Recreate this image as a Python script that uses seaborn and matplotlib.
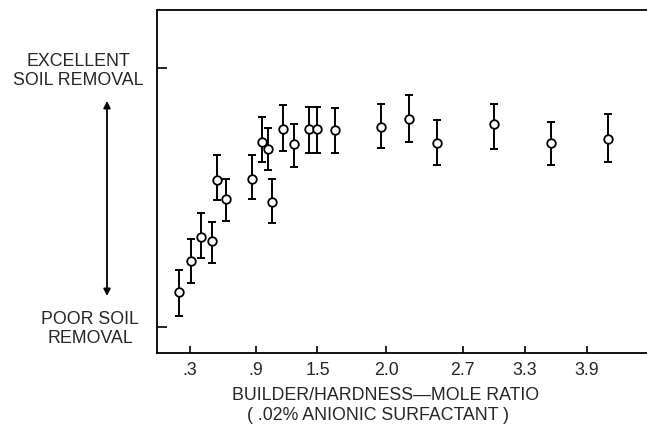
import numpy as np
import matplotlib
matplotlib.use("Agg")
import matplotlib.pyplot as plt
import seaborn as sns
import pandas as pd

# ---- data ----
ratio = [0.20, 0.31, 0.40, 0.50, 0.55, 0.63, 0.87, 0.96, 1.02, 1.06, 1.16,
         1.27, 1.42, 1.50, 1.63, 1.96, 2.21, 2.46, 3.00, 3.55, 4.10]
removal = [1.34, 2.55, 3.49, 3.33, 5.68, 4.93, 5.71, 7.15, 6.87, 4.84, 7.64,
           7.05, 7.63, 7.63, 7.61, 7.71, 8.02, 7.09, 7.83, 7.09, 7.27]
err_low = [0.42, 1.69, 2.65, 2.46, 4.90, 4.09, 4.93, 6.38, 6.06, 4.00, 6.81,
           6.19, 6.73, 6.73, 6.73, 6.90, 7.13, 6.24, 6.88, 6.25, 6.38]
err_high = [2.20, 3.39, 4.39, 4.07, 6.64, 5.70, 6.64, 8.10, 7.67, 5.70, 8.57,
            7.84, 8.48, 8.48, 8.46, 8.60, 8.95, 7.99, 8.61, 7.92, 8.24]
xtick_values = [0.3, 0.9, 1.5, 2.0, 2.7, 3.3, 3.9]
xtick_labels = [".3", ".9", "1.5", "2.0", "2.7", "3.3", "3.9"]
ytick_values = [0, 10]
ylabel_top = "EXCELLENT\nSOIL REMOVAL"
ylabel_bottom = "POOR SOIL\nREMOVAL"
xlabel_1 = "BUILDER/HARDNESS\u2014MOLE RATIO"
xlabel_2 = "( .02% ANIONIC SURFACTANT )"

df = pd.DataFrame({"ratio": ratio, "removal": removal})

sns.set_theme(style="white")
plt.rcParams['font.family'] = ['Liberation Sans', 'DejaVu Sans']

# nonlinear x axis (tick marks are drawn almost evenly spaced)
scale_vals = [0.0, 0.3, 0.9, 1.5, 2.0, 2.7, 3.3, 3.9, 4.5]
scale_pos = [158.2, 191.0, 256.7, 318.3, 386.7, 463.3, 525.0, 587.3, 649.6]

def fwd(v):
    return np.interp(v, scale_vals, scale_pos)

def inv(p):
    return np.interp(p, scale_pos, scale_vals)

FS = 12.8

fig = plt.figure(figsize=(6.47, 4.28), dpi=100)
ax = fig.add_axes([157 / 647, (428 - 352.7) / 428, 1 - 157 / 647, (352.7 - 10) / 428])
ax.set_xscale("function", functions=(fwd, inv))

lo = np.array(removal) - np.array(err_low)
hi = np.array(err_high) - np.array(removal)
ax.errorbar(ratio, removal, yerr=[lo, hi], fmt="none", ecolor="black",
            elinewidth=1.4, capsize=3.0, capthick=1.4, zorder=2)
sns.scatterplot(data=df, x="ratio", y="removal", ax=ax, marker="o", s=38,
                facecolor="white", edgecolor="black", linewidth=1.3, zorder=3)

ax.set_xlim(0.0, inv(647))
ax.set_ylim(-0.99, 12.24)
ax.set_xticks(xtick_values)
ax.set_xticklabels(xtick_labels, fontsize=FS)
ax.set_yticks(ytick_values)
ax.set_yticklabels([])
ax.tick_params(axis="x", bottom=True, direction="in", length=5, width=1.2,
               color="black", pad=7)
ax.tick_params(axis="y", left=True, direction="in", length=7, width=1.2,
               color="black")
ax.set_xlabel("")
ax.set_ylabel("")
for side in ["left", "bottom", "top"]:
    ax.spines[side].set_color("black")
    ax.spines[side].set_linewidth(1.3)
ax.spines["right"].set_visible(False)

fig.text(78 / 647, 1 - 71 / 428, ylabel_top, ha="center", va="center",
         fontsize=FS, linespacing=1.1)
fig.text(90 / 647, 1 - 329 / 428, ylabel_bottom, ha="center", va="center",
         fontsize=FS, linespacing=1.1)
fig.text(386 / 647, 1 - 396 / 428, xlabel_1, ha="center", va="center", fontsize=FS)
fig.text(378 / 647, 1 - 415 / 428, xlabel_2, ha="center", va="center", fontsize=FS)

ax.annotate("", xy=(107 / 647, 1 - 101 / 428), xytext=(107 / 647, 1 - 296 / 428),
            xycoords="figure fraction", textcoords="figure fraction",
            arrowprops=dict(arrowstyle="<|-|>", color="black", lw=1.3,
                            mutation_scale=10, shrinkA=0, shrinkB=0))

fig.savefig("out.png", dpi=100)
